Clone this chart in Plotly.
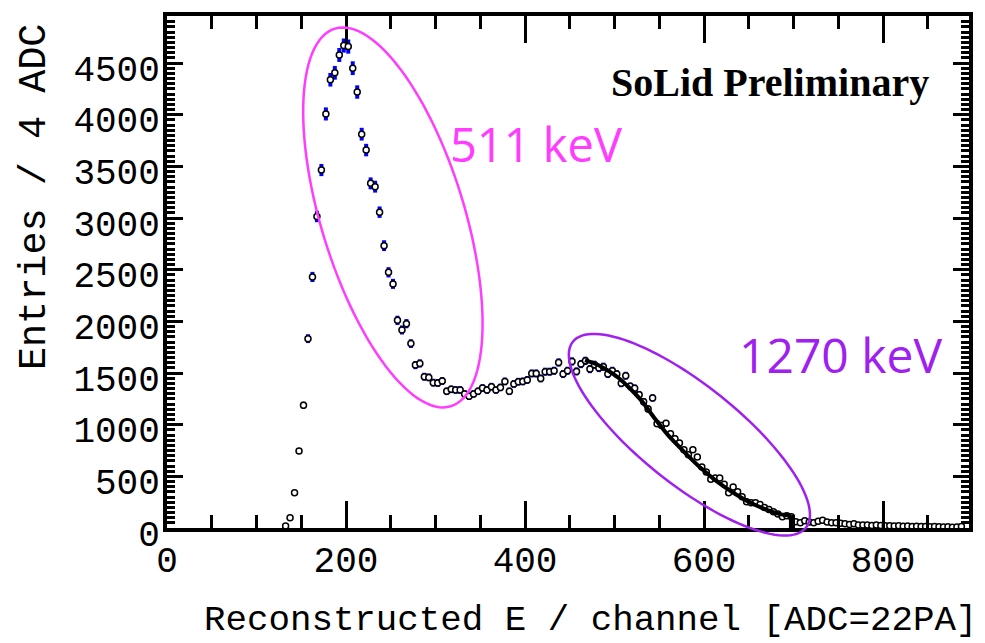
import math
import plotly.graph_objects as go

# Histogram bin centres (channel) and entries per bin
bin_start = 132.5
bin_width = 5.0
entries = [
    20, 99, 340, 745, 1188, 1833, 2430, 3015, 3465, 4008,
    4339, 4406, 4579, 4670, 4660, 4451, 4220, 3812, 3658, 3336,
    3304, 3057, 2733, 2475, 2363, 2010, 1917, 1978, 1785, 1577,
    1593, 1464, 1458, 1407, 1404, 1423, 1323, 1342, 1336, 1336,
    1298, 1275, 1298, 1323, 1355, 1336, 1368, 1336, 1361, 1419,
    1323, 1394, 1416, 1419, 1433, 1496, 1496, 1448, 1513, 1513,
    1522, 1602, 1490, 1522, 1612, 1516, 1587, 1618, 1538, 1580,
    1548, 1561, 1490, 1522, 1490, 1400, 1474, 1371, 1352, 1291,
    1223, 1153, 1259, 1009, 992, 1014, 912, 864, 822, 758,
    710, 758, 687, 591, 543, 472, 485, 485, 424, 340,
    398, 350, 302, 253, 244, 244, 228, 199, 180, 157,
    135, 109, 118, 109, 61, 51, 70, 58, 51, 65,
    75, 58, 50, 50, 45, 40, 35, 40, 30, 30,
    28, 25, 28, 25, 22, 22, 20, 22, 18, 20,
    15, 18, 15, 15, 12, 14, 12, 10, 12, 8,
    10, 15,
]
channels = [bin_start + bin_width * i for i in range(len(entries))]

# Compton-edge fit curve
fit_x = [467, 480, 493, 505, 515, 530, 545, 560, 578, 597,
         615, 634, 652, 671, 686, 696, 697]
fit_y = [1625, 1585, 1522, 1450, 1370, 1233, 1060, 896, 735, 575,
         446, 334, 244, 173, 132, 118, 0]

x_range = [0, 896]
y_range = [0, 4956]

W, H = 985, 643
ML, MR, MT, MB = 167, 12, 12, 115
PW, PH = W - ML - MR, H - MT - MB

MAGENTA = "#ff3cff"
PURPLE = "#a020f0"


def px_to_paper(px, py):
    return (px - ML) / PW, (H - MB - py) / PH


def ellipse_path(cx, cy, a, b, angle_deg, n=120):
    """Rotated ellipse in page pixels, returned as an SVG path in paper units."""
    t = math.radians(angle_deg)
    pts = []
    for i in range(n + 1):
        s = 2 * math.pi * i / n
        ex, ey = a * math.cos(s), b * math.sin(s)
        px = cx + ex * math.cos(t) - ey * math.sin(t)
        py = cy + ex * math.sin(t) + ey * math.cos(t)
        pts.append(px_to_paper(px, py))
    return "M " + " L ".join(f"{u:.5f},{v:.5f}" for u, v in pts) + " Z"


fig = go.Figure()

fig.add_trace(go.Scatter(
    x=channels, y=entries, mode="markers",
    marker=dict(symbol="circle", size=6, color="white",
                line=dict(color="black", width=1.5)),
    error_y=dict(type="sqrt", color="#0000ff", thickness=4, width=0),
    showlegend=False, cliponaxis=False,
))

fig.add_trace(go.Scatter(
    x=fit_x, y=fit_y, mode="lines",
    line=dict(color="black", width=4, shape="spline", smoothing=0.6),
    showlegend=False,
))

mono = "Liberation Mono, Courier New, monospace"
axis_font = dict(family=mono, size=36, color="black")

fig.update_xaxes(
    range=x_range, showgrid=False, zeroline=False,
    showline=True, linewidth=4, linecolor="black", mirror="allticks",
    ticks="inside", tickwidth=3, ticklen=27, tickcolor="black",
    dtick=200, tick0=0, tickfont=axis_font, ticklabelstandoff=-3,
    minor=dict(dtick=50, ticks="inside", ticklen=13, tickwidth=3, tickcolor="black"),
)
fig.update_yaxes(
    range=y_range, showgrid=False, zeroline=False,
    showline=True, linewidth=4, linecolor="black", mirror="allticks",
    ticks="inside", tickwidth=3, ticklen=16, tickcolor="black",
    dtick=500, tick0=0, tickfont=axis_font, ticklabelshift=5,
    ticklabelstandoff=-4,
    minor=dict(dtick=50, ticks="inside", ticklen=8, tickwidth=2.5, tickcolor="black"),
)

shapes = [
    dict(type="path", xref="paper", yref="paper",
         path=ellipse_path(394, 215, 199, 72, 73), line=dict(color=MAGENTA, width=2.5)),
    dict(type="path", xref="paper", yref="paper",
         path=ellipse_path(692, 434, 150, 50, 38.7), line=dict(color=PURPLE, width=2.5)),
]

annotations = []


def label(text, px, py, font, xanchor="center", yanchor="middle", angle=0):
    u, v = px_to_paper(px, py)
    annotations.append(dict(text=text, x=u, y=v, xref="paper", yref="paper",
                            xanchor=xanchor, yanchor=yanchor, textangle=angle,
                            showarrow=False, font=font))


label("<b>SoLid Preliminary</b>", 773, 79,
      dict(family="Liberation Serif, Times New Roman, serif", size=40, color="black"))
label("511 keV", 538, 141, dict(family="Open Sans, sans-serif", size=47, color=MAGENTA))
label("1270 keV", 844, 353, dict(family="Open Sans, sans-serif", size=48, color=PURPLE))
label("Entries / 4 ADC", 35, 17,
      dict(family=mono, size=38.5, color="black"),
      xanchor="center", yanchor="top", angle=-90)
label("Reconstructed E / channel [ADC=22PA]", 983, 621,
      dict(family=mono, size=35.8, color="black"),
      xanchor="right", yanchor="middle")

fig.update_layout(
    width=W, height=H,
    margin=dict(l=ML, r=MR, t=MT, b=MB),
    paper_bgcolor="white", plot_bgcolor="white",
    shapes=shapes, annotations=annotations,
)

fig.write_html("out.html")
